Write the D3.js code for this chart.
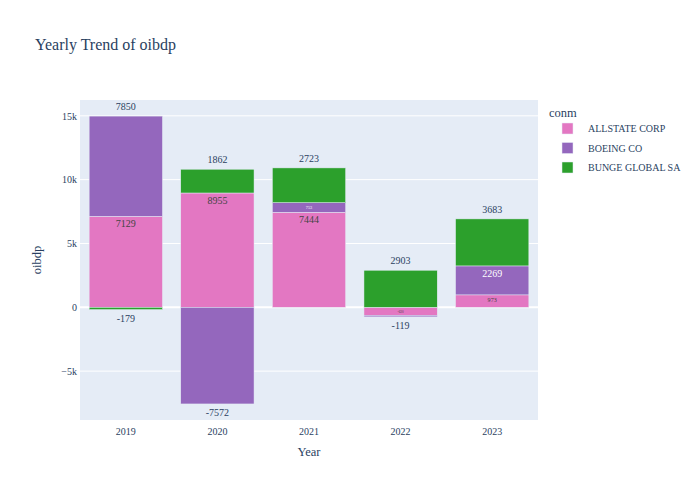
<!DOCTYPE html>
<html><head><meta charset="utf-8">
<script src="https://cdn.jsdelivr.net/npm/d3@7"></script>
<style>body{margin:0;background:#fff}svg{display:block}text{font-family:"Liberation Serif","Times New Roman",serif}</style>
</head><body>
<svg id="chart" width="700" height="500"></svg>
<script>
const years = ['2019','2020','2021','2022','2023'];
const companies = ['ALLSTATE CORP','BOEING CO','BUNGE GLOBAL SA'];
const allstate = [7129, 8955, 7444, -630, 973];
const boeing = [7850, -7572, 753, -119, 2269];
const bunge = [-179, 1862, 2723, 2903, 3683];
const colors = ['#e377c2','#9467bd','#2ca02c'];
const yTicks = [-5000, 0, 5000, 10000, 15000];
const yTickLabels = ['\u22125k','0','5k','10k','15k'];

const series = [allstate, boeing, bunge];
const svg = d3.select('#chart');
const L = 80, R = 538, T = 100, B = 420;
const fc = '#2a3f5f';

const x = d3.scaleBand().domain(years).range([L, R]).paddingInner(0.2).paddingOuter(0.1);
const y = d3.scaleLinear().domain([-8830, 16240]).range([B, T]);

svg.append('rect').attr('x', L).attr('y', T).attr('width', R - L).attr('height', B - T).attr('fill', '#E5ECF6');

// grid
svg.append('g').selectAll('line').data(yTicks.filter(v => v !== 0)).join('line')
  .attr('x1', L).attr('x2', R).attr('y1', d => y(d)).attr('y2', d => y(d))
  .attr('stroke', '#fff').attr('stroke-width', 1);
svg.append('line').attr('x1', L).attr('x2', R).attr('y1', y(0)).attr('y2', y(0))
  .attr('stroke', '#fff').attr('stroke-width', 2);

const yAxis = d3.axisLeft(y).tickValues(yTicks).tickFormat((d, i) => yTickLabels[i]).tickSize(0).tickPadding(3);
const yg = svg.append('g').attr('transform', `translate(${L},0)`).call(yAxis);
yg.select('.domain').remove();
yg.selectAll('text').attr('fill', fc).style('font-size', '10px').style('font-family', '"Liberation Serif",serif');

const xAxis = d3.axisBottom(x).tickSize(0).tickPadding(8);
const xg = svg.append('g').attr('transform', `translate(0,${B})`).call(xAxis);
xg.select('.domain').remove();
xg.selectAll('text').attr('fill', fc).style('font-size', '10px').style('font-family', '"Liberation Serif",serif');

// compute stacks (relative mode)
const segs = [];
years.forEach((yr, i) => {
  let pos = 0, neg = 0;
  const list = [];
  series.forEach((s, k) => {
    const v = s[i];
    let y0, y1;
    if (v >= 0) { y0 = pos; y1 = pos + v; pos = y1; } else { y0 = neg; y1 = neg + v; neg = y1; }
    list.push({yr, k, v, y0, y1});
  });
  let lastPos = -1, lastNeg = -1;
  list.forEach((d, k) => { if (d.v >= 0) lastPos = k; else lastNeg = k; });
  list.forEach((d, k) => { d.outside = (k === lastPos || k === lastNeg); segs.push(d); });
});

const bw = x.bandwidth();
svg.append('g').selectAll('rect').data(segs).join('rect')
  .attr('x', d => x(d.yr)).attr('width', bw)
  .attr('y', d => y(Math.max(d.y0, d.y1))).attr('height', d => Math.abs(y(d.y0) - y(d.y1)))
  .attr('fill', d => colors[d.k]).attr('stroke', '#E5ECF6').attr('stroke-width', 0.5);

// labels
const lg = svg.append('g');
segs.forEach(d => {
  const cx = x(d.yr) + bw / 2;
  const top = y(Math.max(d.y0, d.y1)), bot = y(Math.min(d.y0, d.y1));
  const h = bot - top;
  const t = lg.append('text').attr('x', cx).attr('text-anchor', 'middle').text(d.v);
  if (d.outside) {
    t.attr('fill', fc).style('font-size', '10px');
    if (d.v >= 0) t.attr('y', top - 6); else t.attr('y', bot + 12);
  } else {
    const fs = Math.min(10, (h - 3) * 0.65);
    const col = d.k === 0 ? '#444' : '#fff';
    t.attr('fill', col).style('font-size', fs + 'px');
    if (d.v >= 0) t.attr('y', top + 2 + fs * 0.9); else t.attr('y', bot - 2 - fs * 0.15);
  }
});

// titles
svg.append('text').attr('x', 35).attr('y', 50).attr('fill', fc).style('font-size', '16px').text('Yearly Trend of oibdp');
svg.append('text').attr('x', (L + R) / 2).attr('y', 456).attr('text-anchor', 'middle').attr('fill', fc).style('font-size', '12.5px').text('Year');
svg.append('text').attr('transform', `translate(41,${(T + B) / 2}) rotate(-90)`).attr('text-anchor', 'middle').attr('fill', fc).style('font-size', '12.5px').text('oibdp');

// legend
const leg = svg.append('g');
leg.append('text').attr('x', 549).attr('y', 117).attr('fill', fc).style('font-size', '12.5px').text('conm');
const items = leg.selectAll('g.item').data(companies).join('g').attr('class', 'item')
  .attr('transform', (d, i) => `translate(0,${128 + i * 19.5})`);
items.append('rect').attr('x', 562).attr('y', -5).attr('width', 11).attr('height', 11)
  .attr('fill', (d, i) => colors[i]).attr('stroke', '#E5ECF6').attr('stroke-width', 0.5);
items.append('text').attr('x', 588).attr('y', 4).attr('fill', fc).style('font-size', '10px').text(d => d);
</script>
</body></html>
